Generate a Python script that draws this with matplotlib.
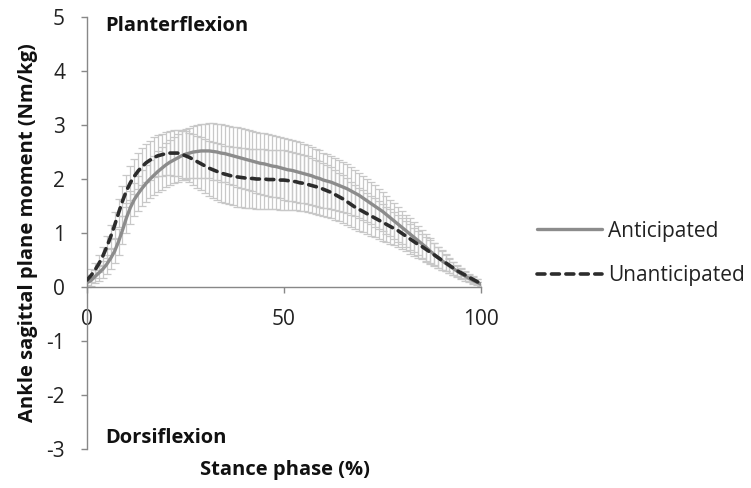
import matplotlib
matplotlib.use("Agg")
import matplotlib.pyplot as plt

plt.rcParams['font.family'] = ['Open Sans', 'DejaVu Sans']

# Stance phase (%) sampled every 1 %
stance = list(range(0, 101))

# Mean ankle sagittal plane moment (Nm/kg)
anticipated_mean = [
    0.08, 0.12, 0.19, 0.26, 0.33, 0.42, 0.53, 0.66, 0.84, 1.05,
    1.28, 1.47, 1.62, 1.73, 1.83, 1.92, 2.00, 2.07, 2.14, 2.20,
    2.26, 2.31, 2.35, 2.39, 2.43, 2.46, 2.48, 2.50, 2.51, 2.52,
    2.52, 2.52, 2.51, 2.50, 2.48, 2.47, 2.45, 2.43, 2.41, 2.39,
    2.37, 2.35, 2.33, 2.31, 2.29, 2.28, 2.26, 2.24, 2.23, 2.21,
    2.19, 2.17, 2.16, 2.14, 2.12, 2.10, 2.08, 2.06, 2.03, 2.01,
    1.98, 1.96, 1.94, 1.91, 1.88, 1.85, 1.82, 1.78, 1.74, 1.70,
    1.65, 1.60, 1.55, 1.50, 1.45, 1.40, 1.34, 1.28, 1.22, 1.16,
    1.10, 1.04, 0.98, 0.92, 0.86, 0.80, 0.74, 0.67, 0.61, 0.55,
    0.49, 0.44, 0.39, 0.34, 0.29, 0.24, 0.20, 0.16, 0.12, 0.09,
    0.05,
]
unanticipated_mean = [
    0.13, 0.21, 0.31, 0.43, 0.57, 0.74, 0.93, 1.14, 1.37, 1.59,
    1.78, 1.93, 2.05, 2.15, 2.23, 2.30, 2.35, 2.40, 2.43, 2.45,
    2.47, 2.48, 2.48, 2.48, 2.46, 2.43, 2.40, 2.36, 2.32, 2.28,
    2.24, 2.20, 2.17, 2.14, 2.11, 2.09, 2.07, 2.05, 2.04, 2.03,
    2.02, 2.01, 2.01, 2.00, 2.00, 2.00, 1.99, 1.99, 1.99, 1.98,
    1.98, 1.97, 1.96, 1.95, 1.93, 1.92, 1.90, 1.88, 1.86, 1.84,
    1.81, 1.78, 1.75, 1.71, 1.67, 1.63, 1.58, 1.53, 1.48, 1.44,
    1.40, 1.36, 1.32, 1.28, 1.24, 1.20, 1.16, 1.12, 1.08, 1.04,
    0.99, 0.94, 0.89, 0.84, 0.79, 0.75, 0.70, 0.65, 0.60, 0.55,
    0.50, 0.45, 0.40, 0.35, 0.30, 0.26, 0.22, 0.18, 0.14, 0.10,
    0.06,
]

# Standard deviations
anticipated_sd = [
    0.08, 0.10, 0.12, 0.14, 0.16, 0.18, 0.20, 0.22, 0.24, 0.26,
    0.28, 0.30, 0.31, 0.32, 0.33, 0.34, 0.35, 0.36, 0.38, 0.40,
    0.41, 0.42, 0.43, 0.44, 0.45, 0.46, 0.47, 0.48, 0.49, 0.50,
    0.50, 0.51, 0.52, 0.52, 0.53, 0.53, 0.54, 0.54, 0.55, 0.55,
    0.55, 0.56, 0.56, 0.56, 0.57, 0.57, 0.57, 0.57, 0.57, 0.57,
    0.57, 0.57, 0.57, 0.56, 0.56, 0.55, 0.55, 0.54, 0.53, 0.52,
    0.51, 0.50, 0.49, 0.48, 0.47, 0.46, 0.45, 0.44, 0.43, 0.42,
    0.41, 0.40, 0.39, 0.38, 0.37, 0.36, 0.35, 0.34, 0.33, 0.32,
    0.31, 0.30, 0.29, 0.28, 0.27, 0.26, 0.25, 0.23, 0.21, 0.19,
    0.17, 0.15, 0.13, 0.12, 0.10, 0.09, 0.08, 0.07, 0.06, 0.05,
    0.04,
]
unanticipated_sd = [
    0.10, 0.12, 0.14, 0.16, 0.18, 0.20, 0.22, 0.24, 0.26, 0.28,
    0.30, 0.31, 0.32, 0.33, 0.34, 0.35, 0.36, 0.37, 0.38, 0.39,
    0.40, 0.41, 0.42, 0.43, 0.44, 0.45, 0.46, 0.47, 0.48, 0.49,
    0.50, 0.51, 0.52, 0.52, 0.53, 0.53, 0.54, 0.54, 0.55, 0.55,
    0.55, 0.55, 0.55, 0.55, 0.55, 0.55, 0.55, 0.55, 0.55, 0.55,
    0.55, 0.54, 0.54, 0.53, 0.53, 0.52, 0.52, 0.51, 0.50, 0.50,
    0.49, 0.48, 0.47, 0.46, 0.45, 0.44, 0.43, 0.42, 0.41, 0.40,
    0.39, 0.38, 0.37, 0.36, 0.35, 0.34, 0.33, 0.32, 0.31, 0.30,
    0.29, 0.28, 0.27, 0.26, 0.25, 0.24, 0.23, 0.22, 0.21, 0.20,
    0.18, 0.16, 0.14, 0.12, 0.10, 0.09, 0.08, 0.07, 0.06, 0.05,
    0.04,
]

x_ticks = [0, 50, 100]
y_ticks = [-3, -2, -1, 0, 1, 2, 3, 4, 5]

W, H = 751, 488
fig = plt.figure(figsize=(W / 100, H / 100), dpi=100)
ax = fig.add_axes([87 / W, 1 - 449 / H, (481 - 87) / W, (449 - 17) / H])

err_color = '#c8c8c8'
for mean, sd in ((anticipated_mean, anticipated_sd),
                 (unanticipated_mean, unanticipated_sd)):
    ax.errorbar(stance, mean, yerr=sd, fmt='none', ecolor=err_color,
                elinewidth=0.9, capsize=2.6, capthick=0.9, zorder=1)

ax.plot(stance, anticipated_mean, color='#8c8c8c', lw=2.4,
        solid_capstyle='round', label='Anticipated', zorder=3)
ax.plot(stance, unanticipated_mean, color='#2c2c2c', lw=2.6,
        dashes=(2.2, 1.8), dash_capstyle='round', label='Unanticipated', zorder=4)

ax.set_xlim(0, 100)
ax.set_ylim(-3, 5)
ax.set_xticks(x_ticks)
ax.set_yticks(y_ticks)
ax.set_xticklabels([str(v) for v in x_ticks])
ax.set_yticklabels([str(v) for v in y_ticks])

for side in ('top', 'right'):
    ax.spines[side].set_visible(False)
ax.spines['bottom'].set_position(('data', 0))
for side in ('left', 'bottom'):
    ax.spines[side].set_color('#888888')
    ax.spines[side].set_linewidth(1.0)
ax.tick_params(axis='both', colors='#888888', labelcolor='#222222',
               labelsize=15, length=4.3, width=1.0, direction='out')
ax.tick_params(axis='x', pad=11.5)
ax.tick_params(axis='y', pad=11.5)

label_style = dict(fontsize=14.5, fontweight='bold', color='#111111')
fig.text(285 / W, 1 - 470 / H, 'Stance phase (%)', ha='center', va='center',
         **label_style)
fig.text(28 / W, 1 - 233 / H, 'Ankle sagittal plane moment (Nm/kg)',
         rotation=90, ha='center', va='center', **label_style)

fig.text(105 / W, 1 - 31 / H, 'Planterflexion', ha='left', va='baseline',
         **label_style)
fig.text(105 / W, 1 - 443 / H, 'Dorsiflexion', ha='left', va='baseline',
         **label_style)

leg = ax.legend(loc='center left', bbox_to_anchor=(537 / W, 1 - 253.5 / H),
                bbox_transform=fig.transFigure, frameon=False,
                fontsize=15, handlelength=3.12, handletextpad=0.28,
                labelspacing=1.15, borderpad=0, borderaxespad=0)
for t in leg.get_texts():
    t.set_color('#222222')

fig.savefig('out.png', dpi=100)
